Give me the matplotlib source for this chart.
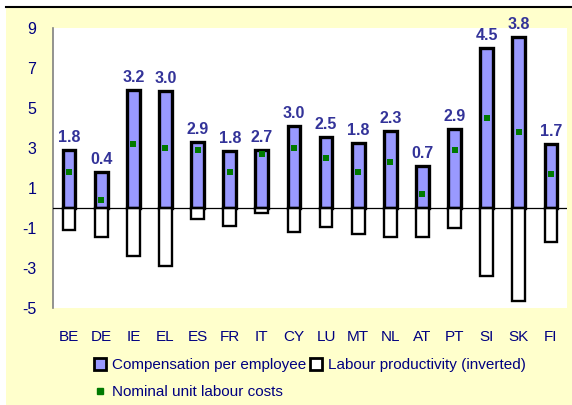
import matplotlib
matplotlib.use("Agg")
import matplotlib.pyplot as plt
from matplotlib.patches import Rectangle
from matplotlib.lines import Line2D
import numpy as np

countries = ["BE", "DE", "IE", "EL", "ES", "FR", "IT", "CY", "LU", "MT", "NL", "AT", "PT", "SI", "SK", "FI"]
compensation = [2.9, 1.8, 5.9, 5.85, 3.3, 2.85, 2.9, 4.1, 3.55, 3.25, 3.85, 2.1, 3.95, 8.0, 8.55, 3.2]
productivity_inv = [-1.1, -1.45, -2.4, -2.9, -0.55, -0.9, -0.25, -1.2, -0.95, -1.3, -1.45, -1.45, -1.0, -3.4, -4.65, -1.7]
ulc = [1.8, 0.4, 3.2, 3.0, 2.9, 1.8, 2.7, 3.0, 2.5, 1.8, 2.3, 0.7, 2.9, 4.5, 3.8, 1.7]
yticks = [-5, -3, -1, 1, 3, 5, 7, 9]

plt.rcParams['font.family'] = ['Liberation Sans', 'DejaVu Sans']
W, H = 572, 405
fig = plt.figure(figsize=(W / 100, H / 100), dpi=100, facecolor="white")

# yellow background panel and top rule
fig.patches.append(Rectangle((6 / W, 0), 1 - 6 / W, 1 - 8 / H, transform=fig.transFigure,
                             facecolor="#FFFFCC", edgecolor="none", zorder=-10))
fig.lines.append(Line2D([6 / W, 1], [1 - 7 / H, 1 - 7 / H], transform=fig.transFigure,
                        color="black", lw=1.5, zorder=-9))

ax = fig.add_axes([53 / W, 1 - 308 / H, (567 - 53) / W, (308 - 28) / H])
ax.set_zorder(1)
ax.set_facecolor("white")
x = np.arange(len(countries))
bw = 0.4
ax.bar(x, compensation, width=bw, color="#9999FF", edgecolor="black", linewidth=2.4, zorder=3)
ax.bar(x, productivity_inv, width=bw, color="white", edgecolor="black", linewidth=1.7, zorder=3)
ax.scatter(x, ulc, marker="s", s=24, color="#007A00", zorder=5, linewidths=0)
ax.axhline(0, color="black", lw=0.9, zorder=4)

for xi, top, v in zip(x, compensation, ulc):
    ax.text(xi, top + 0.25, f"{v:.1f}", ha="center", va="bottom", fontsize=11.5,
            fontweight="bold", color="#333399", zorder=6)

ax.set_xlim(-0.5, len(countries) - 0.5)
ax.set_ylim(-5, 9)
ax.set_yticks(yticks)
ax.set_yticklabels([str(t) for t in yticks])
ax.set_xticks(x)
ax.set_xticklabels(countries)
ax.tick_params(axis="y", length=0, pad=12, labelsize=11.5, labelcolor="#000080")
ax.tick_params(axis="x", length=0, pad=16, labelsize=11, labelcolor="#000080")
for s in ["top", "right", "bottom"]:
    ax.spines[s].set_visible(False)
ax.spines["left"].set_color("#808080")
ax.spines["left"].set_linewidth(1.2)

handles = [
    Line2D([], [], marker="s", linestyle="none", markersize=8, markerfacecolor="#9999FF",
           markeredgecolor="black", markeredgewidth=2),
    Line2D([], [], marker="s", linestyle="none", markersize=5, markerfacecolor="#007A00",
           markeredgecolor="#007A00"),
    Line2D([], [], marker="s", linestyle="none", markersize=8, markerfacecolor="white",
           markeredgecolor="black", markeredgewidth=2),
]
labels = ["Compensation per employee", "Nominal unit labour costs", "Labour productivity (inverted)"]
fig.legend(handles, labels, ncol=2, loc="upper left", bbox_to_anchor=(94 / W, 1 - 358 / H),
           frameon=False, fontsize=11, labelcolor="#000080", handlelength=0.8,
           handletextpad=0.4, columnspacing=0.2, labelspacing=0.85, borderaxespad=0, borderpad=0)

fig.savefig("out.png", dpi=100, facecolor=fig.get_facecolor())
